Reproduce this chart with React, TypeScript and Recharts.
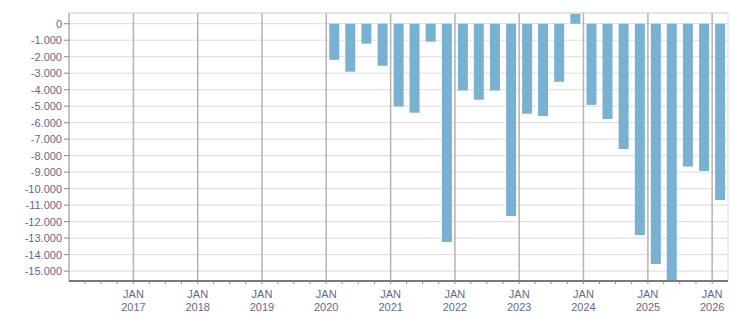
import {
  ComposedChart,
  Bar,
  XAxis,
  YAxis,
  CartesianGrid,
  ReferenceLine,
} from "recharts";

// quarterly values, Q1 2020 .. Q1 2026
const quarters = [
  "2020-Q1", "2020-Q2", "2020-Q3", "2020-Q4",
  "2021-Q1", "2021-Q2", "2021-Q3", "2021-Q4",
  "2022-Q1", "2022-Q2", "2022-Q3", "2022-Q4",
  "2023-Q1", "2023-Q2", "2023-Q3", "2023-Q4",
  "2024-Q1", "2024-Q2", "2024-Q3", "2024-Q4",
  "2025-Q1", "2025-Q2", "2025-Q3", "2025-Q4",
  "2026-Q1",
];
const values = [
  -2190, -2910, -1210, -2550,
  -5020, -5400, -1090, -13240,
  -4050, -4610, -4050, -11660,
  -5460, -5590, -3520, 600,
  -4920, -5770, -7590, -12810,
  -14570, -15600, -8660, -8930,
  -10690,
];
const yearTicks = [2017, 2018, 2019, 2020, 2021, 2022, 2023, 2024, 2025, 2026];
const yTicks = [
  0, -1000, -2000, -3000, -4000, -5000, -6000, -7000, -8000,
  -9000, -10000, -11000, -12000, -13000, -14000, -15000,
];

const X_MIN = Date.UTC(2016, 0, 1);
const X_MAX = Date.UTC(2026, 3, 1);
const Y_MIN = -15600;
const Y_MAX = 650;

const quarterStart = (y: number, q: number) => Date.UTC(y, (q - 1) * 3, 1);

const data = quarters.map((label, i) => {
  const [y, q] = label.split("-Q").map(Number);
  const a = quarterStart(y, q);
  const b = q === 4 ? quarterStart(y + 1, 1) : quarterStart(y, q + 1);
  return { t: (a + b) / 2, value: values[i] };
});

// minor ticks every quarter on the time axis
const xTicks: number[] = [];
for (let y = 2016; y <= 2026; y++) {
  for (let q = 1; q <= 4; q++) {
    const t = quarterStart(y, q);
    if (t > X_MIN && t < X_MAX) xTicks.push(t);
  }
}

const fmt = (v: number) => {
  const s = Math.abs(v).toString().replace(/\B(?=(\d{3})+(?!\d))/g, ".");
  return v < 0 ? "-" + s : s;
};

const TEXT = "#67678a";
const FONT = "'Liberation Sans', Arial, sans-serif";

function TimeTick(props: any) {
  const { x, y, payload } = props;
  const d = new Date(payload.value);
  if (d.getUTCMonth() !== 0) return null;
  return (
    <g>
      <text x={x} y={y + 12} textAnchor="middle" fontSize={11} fill={TEXT} fontFamily={FONT}>
        JAN
      </text>
      <text x={x} y={y + 25} textAnchor="middle" fontSize={11} fill={TEXT} fontFamily={FONT}>
        {d.getUTCFullYear()}
      </text>
    </g>
  );
}

export default function App() {
  return (
    <div style={{ position: "absolute", left: 0, top: 0, background: "#fff" }}>
      <ComposedChart
        width={751}
        height={313}
        data={data}
        margin={{ top: 13, right: 23, left: 0, bottom: 0 }}
      >
        <CartesianGrid vertical={false} stroke="#dcdcdc" strokeWidth={1} />
        {yearTicks.map((yr) => (
          <ReferenceLine key={yr} x={Date.UTC(yr, 0, 1)} stroke="#b4b4b4" strokeWidth={1.5} />
        ))}
        <ReferenceLine y={Y_MAX} stroke="#dcdcdc" />
        <ReferenceLine x={X_MAX} stroke="#dcdcdc" />
        <XAxis
          dataKey="t"
          type="number"
          scale="time"
          domain={[X_MIN, X_MAX]}
          ticks={xTicks}
          interval={0}
          height={32}
          tick={<TimeTick />}
          tickSize={3}
          tickLine={{ stroke: "#888" }}
          axisLine={{ stroke: "#7a7a7a", strokeWidth: 2 }}
          allowDataOverflow
        />
        <YAxis
          type="number"
          domain={[Y_MIN, Y_MAX]}
          ticks={yTicks}
          interval={0}
          width={69}
          tickFormatter={fmt}
          tickSize={5}
          tickMargin={2}
          tick={{ fontSize: 11, fill: TEXT, fontFamily: FONT }}
          tickLine={{ stroke: "#888" }}
          axisLine={{ stroke: "#888" }}
          allowDataOverflow
        />
        <Bar dataKey="value" fill="#79b1d3" barSize={10} isAnimationActive={false} />
      </ComposedChart>
    </div>
  );
}
